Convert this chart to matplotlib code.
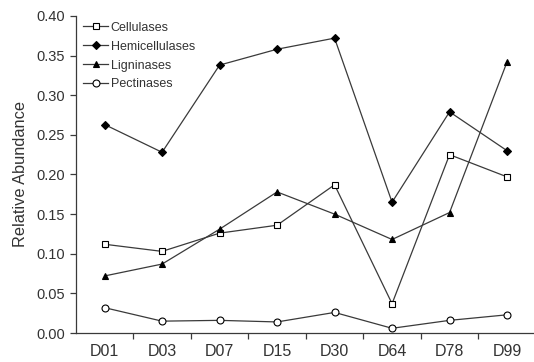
import matplotlib
matplotlib.use("Agg")
import matplotlib.pyplot as plt
import numpy as np

plt.rcParams['font.family'] = ['Liberation Sans', 'DejaVu Sans']

days = ["D01", "D03", "D07", "D15", "D30", "D64", "D78", "D99"]
cellulases = [0.112, 0.103, 0.126, 0.136, 0.187, 0.037, 0.225, 0.197]
hemicellulases = [0.263, 0.228, 0.338, 0.358, 0.372, 0.165, 0.279, 0.230]
ligninases = [0.072, 0.087, 0.131, 0.178, 0.150, 0.118, 0.152, 0.342]
pectinases = [0.032, 0.015, 0.016, 0.014, 0.026, 0.006, 0.016, 0.023]

fig = plt.figure(figsize=(5.34, 3.62), dpi=100)
ax = fig.add_axes([0.142, 0.080, 0.856, 0.876])

x = np.arange(len(days))
line_col = '#3a3a3a'
text_col = '#333333'
kw = dict(color=line_col, lw=0.9, markersize=5.0, markeredgecolor='black', markeredgewidth=0.8)

ax.plot(x, cellulases, marker='s', markerfacecolor='white', label='Cellulases', **kw)
ax.plot(x, hemicellulases, marker='D', markerfacecolor='black', label='Hemicellulases',
        **{**kw, 'markersize': 4.2})
ax.plot(x, ligninases, marker='^', markerfacecolor='black', label='Ligninases', **kw)
ax.plot(x, pectinases, marker='o', markerfacecolor='white', label='Pectinases', **kw)

ax.set_xlim(-0.5, 7.45)
ax.set_ylim(0, 0.40)
ax.set_yticks(np.arange(0, 0.401, 0.05))
ax.set_yticklabels(["%.2f" % v for v in np.arange(0, 0.401, 0.05)])
ax.set_xticks(x)
ax.set_xticklabels(days)
ax.tick_params(axis='x', which='major', length=0, pad=8, labelsize=11.5)
ax.set_xticks(np.arange(0.5, 7, 1), minor=True)
ax.tick_params(axis='x', which='minor', length=4.5, width=0.9, color=line_col)
ax.tick_params(axis='y', length=4.5, width=0.9, color=line_col, labelsize=10.5)
ax.tick_params(labelcolor=text_col)

for s in ['top', 'right']:
    ax.spines[s].set_visible(False)
for s in ['left', 'bottom']:
    ax.spines[s].set_color(line_col)
    ax.spines[s].set_linewidth(0.9)

ax.set_ylabel("Relative Abundance", fontsize=11.8, color=text_col, labelpad=6)

leg = ax.legend(loc='upper left', bbox_to_anchor=(0.0, 1.005), frameon=False, fontsize=9,
                handlelength=2.0, handletextpad=0.2, labelspacing=0.55, borderaxespad=0.2)
for t in leg.get_texts():
    t.set_color(text_col)

fig.savefig("out.png", dpi=100)
